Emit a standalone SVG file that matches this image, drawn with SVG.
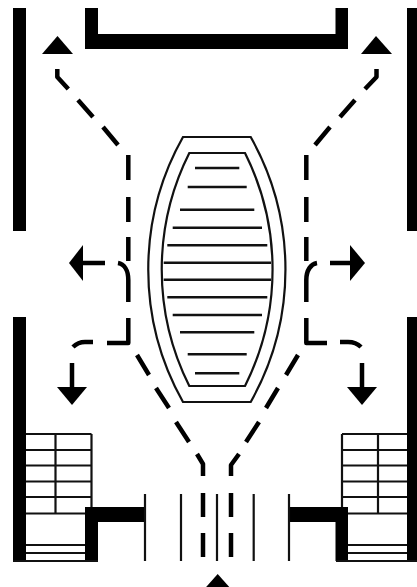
<svg xmlns="http://www.w3.org/2000/svg" width="417" height="587" viewBox="0 0 417 587">
<style>
.wall{fill:#000;stroke:none}
.thin{fill:none;stroke:#111;stroke-width:2.2}
.tread{fill:none;stroke:#111;stroke-width:2.4;stroke-linecap:butt}
.route{fill:none;stroke:#000;stroke-width:4.5;stroke-linejoin:round}
.shaft{fill:none;stroke:#000;stroke-width:4.5}
.head{fill:#000;stroke:none}
</style>
<rect width="417" height="587" fill="#fff"/>
<g id="walls">
<rect class="wall" x="13" y="8" width="13" height="223"/>
<rect class="wall" x="13" y="317" width="13" height="244"/>
<rect class="wall" x="407" y="8" width="10" height="223"/>
<rect class="wall" x="407" y="317" width="10" height="244"/>
<path class="wall" d="M85,8H98V34H335.5V8H348V49H85Z"/>
<path class="wall" d="M85,507H145V522H98V561H85Z"/>
<path class="wall" d="M289,507H348V561H335.5V522H289Z"/>
</g>
<g id="door-posts">
<path class="thin" d="M145,494V561M181,494V561M217,494V561M253.7,494V561M289,494V561"/>
</g>
<g id="stair-left">
<path class="thin" d="M26,434H91.5M26,450H91.5M26,465.5H91.5M26,481.5H91.5M26,497H91.5M26,513.5H85M55.5,434V513.5M91.5,434V507M26,545H85M26,553H85M13,561H98"/>
</g>
<g id="stair-right">
<path class="thin" d="M342,434H407M342,450H407M342,465.5H407M342,481.5H407M342,497H407M348,513.5H407M378,434V513.5M342,434V507M348,545H407M348,553H407M336,561H417"/>
</g>
<g id="central-island">
<path class="thin" d="M183,137H250.7A270,270 0 0 1 250.7,402H183A270,270 0 0 1 183,137Z"/>
<path class="thin" d="M189.3,153H245A260,260 0 0 1 245,386H189.3A260,260 0 0 1 189.3,153Z"/>
<path class="tread" d="M195,168H239.3M187.7,187H246.7M180,209.7H254.3M172.7,227.7H262M167.3,245.3H267.3M163.7,262.7H271M163.7,279.7H271M167.3,297.3H267.3M172.7,315H262M180,332.3H254.3M187.7,354.3H246.7M195,373.3H239.3"/>
</g>
<g id="connectors">
<path class="route" d="M57.3,69V77L68.3,89M78,100L93,117M103,127L118,145M128.3,155V180M128.3,197V222M128.3,237V261M118,263C124,264 128.3,270 128.3,280V302M128.3,318V343H107M93,342H85C80,342 76,344 73,347"/>
<path class="route" d="M376.5,69V77L365,89M355,100L340,117M330,127L315,145M306.3,155V180M306.3,197V222M306.3,237V261M317,263C311,264 306.3,270 306.3,280V302M306.3,318V343H327M340,342H348C353,342 358,344 361,347"/>
<path class="route" d="M137,355L149,375M156,388L169,408M176,422L189,442M197,454L203,464V476M203,493V517M203,533V557"/>
<path class="route" d="M298,355L286,375M278,388L266,408M259,422L246,442M239,454L231,465V476M231,493V517M231,533V557"/>
<path class="shaft" d="M105,263H80M72,363V392M330,263H352M362,363V392"/>
</g>
<g id="arrowheads">
<path class="head" d="M57.5,36L73,54H42Z"/>
<path class="head" d="M376,36L392,54H361Z"/>
<path class="head" d="M217.7,574L233.7,592H201.7Z"/>
<path class="head" d="M69,263L83,245V281Z"/>
<path class="head" d="M365,263L350,245V281Z"/>
<path class="head" d="M72,405L57,387H87Z"/>
<path class="head" d="M362,405L347,387H377Z"/>
</g>
</svg>
